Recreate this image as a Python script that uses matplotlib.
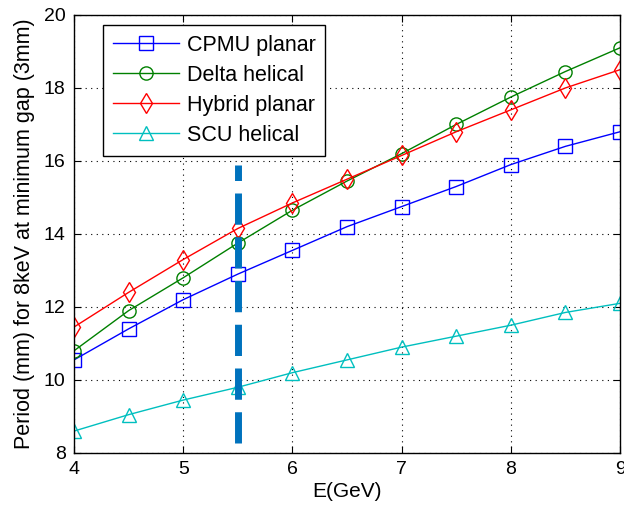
import numpy as np
import matplotlib
matplotlib.use("Agg")
from matplotlib import pyplot as plt

plt.rcParams['font.family'] = ['Liberation Sans', 'DejaVu Sans']

energy = [4, 4.5, 5, 5.5, 6, 6.5, 7, 7.5, 8, 8.5, 9]
cpmu = [10.55, 11.4, 12.2, 12.9, 13.55, 14.2, 14.75, 15.3, 15.9, 16.4, 16.8]
delta = [10.8, 11.9, 12.8, 13.75, 14.65, 15.45, 16.2, 17.0, 17.75, 18.45, 19.1]
hybrid = [11.45, 12.4, 13.3, 14.15, 14.85, 15.5, 16.15, 16.8, 17.4, 18.0, 18.5]
scu = [8.6, 9.05, 9.45, 9.8, 10.2, 10.55, 10.9, 11.2, 11.5, 11.85, 12.1]
marker_energy = 5.5
marker_range = [8.27, 15.9]

fig = plt.figure(figsize=(6.24, 5.15), dpi=100)
ax = fig.add_axes([0.1186, 0.1204, 0.875, 0.8506])

ax.plot(energy, cpmu, color='#0000ff', marker='s', mfc='none', ms=9.5, lw=1, label='CPMU planar')
ax.plot(energy, delta, color='#008000', marker='o', mfc='none', ms=9.5, lw=1, label='Delta helical')
ax.plot(energy, hybrid, color='#ff0000', marker='d', mfc='none', ms=10, lw=1, label='Hybrid planar')
ax.plot(energy, scu, color='#00bfbf', marker='^', mfc='none', ms=10, lw=1, label='SCU helical')
ax.plot([marker_energy, marker_energy], marker_range, color='#0072bd', lw=5,
        linestyle=(0, (4.5, 1.8)))

ax.set_xlim(4, 9)
ax.set_ylim(8, 20)
ax.set_xticks([4, 5, 6, 7, 8, 9])
ax.set_yticks([8, 10, 12, 14, 16, 18, 20])
ax.grid(True, color='black', linestyle=(0, (1, 4)), lw=0.8)
ax.tick_params(direction='in', top=True, right=True, labelsize=14, length=5, pad=6)
for s in ax.spines.values():
    s.set_linewidth(1)
ax.set_xlabel('E(GeV)', fontsize=15, labelpad=3)
ax.set_ylabel('Period (mm) for 8keV at minimum gap (3mm)', fontsize=15.5, labelpad=6)

leg = ax.legend(loc='upper left', bbox_to_anchor=(0.053, 0.977), borderaxespad=0,
                fontsize=15.5, fancybox=False, edgecolor='black', framealpha=1,
                handlelength=3.1, handletextpad=0.35, borderpad=0.45, labelspacing=0.42)
leg.get_frame().set_linewidth(1)

fig.savefig('out.png', dpi=100)
